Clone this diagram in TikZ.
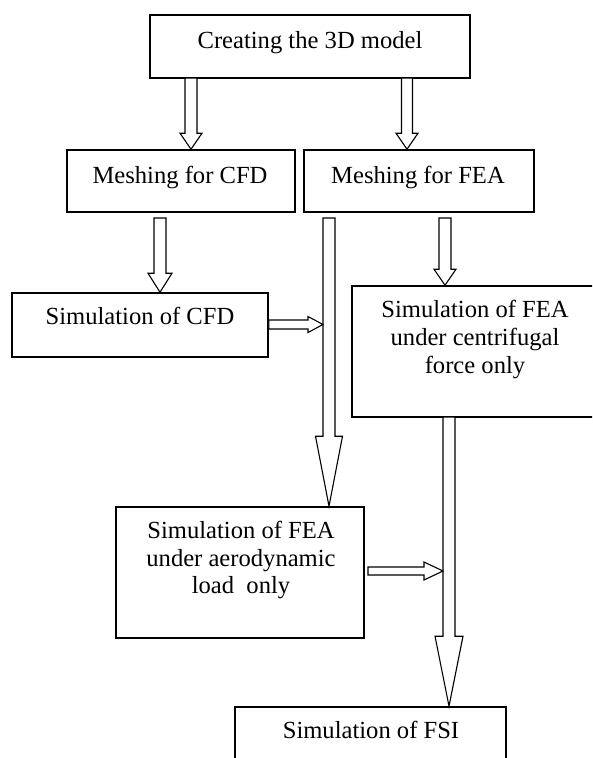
\documentclass[tikz,border=0pt]{standalone}
\usepackage{fontspec}
\setmainfont{Liberation Serif}
\usetikzlibrary{calc}
\tikzset{
  box/.style={draw, rectangle, line width=1.6pt, inner sep=0pt},
  txt/.style={anchor=base, inner sep=0pt, font=\fontsize{24.6}{27.5}\selectfont},
  barrow/.style={draw, line width=1.1pt, fill=white, line join=miter},
}
% vertical block arrow: start, tip, half shaft, half head, head length
\newcommand\darr[5]{\draw[barrow] let \p1=(#1), \p2=(#2) in
  (\x1-#3pt,\y1) -- (\x1-#3pt,\y2+#5pt) -- (\x1-#4pt,\y2+#5pt) -- (\x1,\y2)
  -- (\x1+#4pt,\y2+#5pt) -- (\x1+#3pt,\y2+#5pt) -- (\x1+#3pt,\y1) -- cycle;}
% horizontal block arrow: start, tip, half shaft, half head, head length
\newcommand\rarr[5]{\draw[barrow] let \p1=(#1), \p2=(#2) in
  (\x1,\y1+#3pt) -- (\x2-#5pt,\y1+#3pt) -- (\x2-#5pt,\y1+#4pt) -- (\x2,\y1)
  -- (\x2-#5pt,\y1-#4pt) -- (\x2-#5pt,\y1-#3pt) -- (\x1,\y1-#3pt) -- cycle;}
\begin{document}
\begin{tikzpicture}[x=1pt,y=-1pt]
\useasboundingbox (0,0) rectangle (592,758);
\clip (0,0) rectangle (592,758);

% boxes
\node[box, minimum width=320, minimum height=63] (b1) at (310,46.5) {};
\node[box, minimum width=228, minimum height=62] (mcfd) at (181,181) {};
\node[box, minimum width=230, minimum height=62] (mfea) at (419,181) {};
\node[box, minimum width=256, minimum height=64] (scfd) at (140,325) {};
\node[box, minimum width=246, minimum height=131] (scen) at (475,351.5) {};
\node[box, minimum width=248, minimum height=131] (aero) at (240,572.5) {};
\node[box, minimum width=271, minimum height=63] (fsi) at (370.5,738.5) {};

% texts
\node[txt] (t1) at (310,48) {Creating the 3D model};
\node[txt] (t2) at (180,183) {Meshing for CFD};
\node[txt] (t3) at (418,183) {Meshing for FEA};
\node[txt] (t4) at (140,324) {Simulation of CFD};
\node[txt] (t5a) at (475,317) {Simulation of FEA};
\node[txt] (t5b) at (475,345) {under centrifugal};
\node[txt] (t5c) at (475,373) {force only};
\node[txt] (t6a) at (241,538) {Simulation of FEA};
\node[txt] (t6b) at (241,566) {under aerodynamic};
\node[txt] (t6c) at (241,593) {load\ \ only};
\node[txt] (t7) at (371,738) {Simulation of FSI};

% arrow anchor points
\coordinate (a1s) at (191,78);   \coordinate (a1e) at (a1s |- mcfd.north);
\coordinate (a2s) at (407,78);   \coordinate (a2e) at (a2s |- mfea.north);
\coordinate (a3s) at (160,218);  \coordinate (a3e) at (a3s |- scfd.north);
\coordinate (a4s) at (329,218);  \coordinate (a4e) at (a4s |- aero.north);
\coordinate (a5s) at (445,218);  \coordinate (a5e) at (a5s |- scen.north);
\coordinate (a7s) at (449,417);  \coordinate (a7e) at (a7s |- fsi.north);
\coordinate (a6s) at (scfd.east |- 0,324.5); \coordinate (a6e) at (323,324.5);
\coordinate (a8s) at (368,571);  \coordinate (a8e) at (443,571);

% block arrows
\darr{a1s}{a1e}{6}{11}{16}
\darr{a2s}{a2e}{5.5}{11}{16}
\darr{a3s}{a3e}{6}{12}{19}
\darr{a4s}{a4e}{6}{13.5}{70}
\darr{a5s}{a5e}{6}{11}{16}
\darr{a7s}{a7e}{6}{14}{70}
\rarr{a6s}{a6e}{4.5}{8}{15}
\rarr{a8s}{a8e}{4}{9}{19}
\end{tikzpicture}
\end{document}
